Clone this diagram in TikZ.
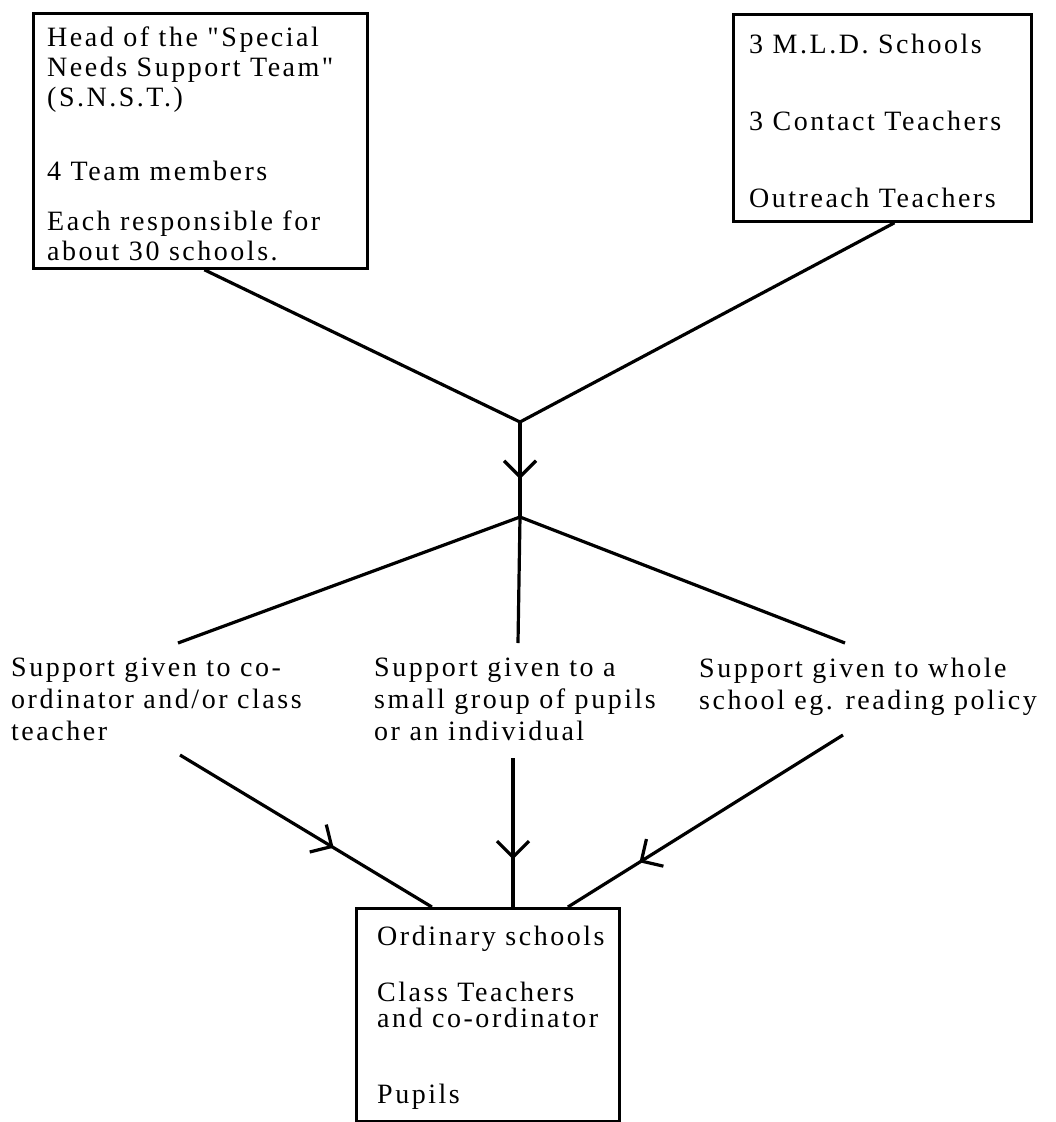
\documentclass[tikz,border=0pt]{standalone}
\usepackage{fontspec}
\setmainfont{Liberation Serif}[LetterSpace=9, Ligatures=TeXOff]
\usepackage{tikz}
\usetikzlibrary{arrows.meta,decorations.markings}
\tikzset{
  framebox/.style={draw, line width=2.8pt, inner sep=0pt, anchor=north west},
  boxtext/.style={font=\fontsize{28}{30}\selectfont, align=left, inner sep=0pt, anchor=north west},
  link/.style={line width=3.2pt},
  midarrow/.style={link, postaction={decorate},
    decoration={markings, mark=at position #1 with {\arrow{Straight Barb[length=16pt,width=32pt]}}}}
}

\begin{document}
\begin{tikzpicture}[x=1pt,y=-1pt]
  \useasboundingbox (0,0) rectangle (1056,1122);
  % the three boxes
  \node[framebox, minimum width=334pt, minimum height=255pt] (snst) at (32,12) {};
  \node[framebox, minimum width=298pt, minimum height=207pt] (mld) at (732,13) {};
  \node[framebox, minimum width=263pt, minimum height=213pt] (ord) at (355,907) {};

  \node[boxtext] (snsttxt) at (47,27) {Head of the "Special\\Needs Support Team"\\(S.N.S.T.)\\[44pt]4 Team members\\[20pt]Each responsible for\\about 30 schools.};
  \node[boxtext] (mldtxt) at (749,34) {3 M.L.D. Schools\\[47pt]3 Contact Teachers\\[47pt]Outreach Teachers};
  \node[boxtext] (ordtxt) at (377,926) {Ordinary schools\\[26pt]Class Teachers\\[-4pt]and co-ordinator\\[46pt]Pupils};

  % kinds of support
  \node[boxtext] (supleft) at (11,658) {Support given to co-\\[2pt]ordinator and/or class\\[2pt]teacher};
  \node[boxtext] (supmid) at (374,658) {Support given to a\\[2pt]small group of pupils\\[2pt]or an individual};
  \node[boxtext] (supright) at (699,658) {Support given to whole\\[2pt]school eg. reading policy};

  \coordinate (meet) at (520,422);
  \coordinate (split) at (520,517);
  \coordinate (toleft) at (178,643);
  \coordinate (tomid) at (518,643);
  \coordinate (toright) at (845,643);
  \coordinate (fromleft) at (180,755);
  \coordinate (frommid) at (513,758);
  \coordinate (fromright) at (843,735);

  \draw[link] ([xshift=4pt]snst.south) -- (meet);
  \draw[link] ([xshift=12pt]mld.south) -- (meet);
  \draw[midarrow=0.6] (meet) -- (split);
  \foreach \e in {toleft,tomid,toright}
    \draw[link] (split) -- (\e);

  \draw[midarrow=0.61] (fromleft) -- ([xshift=-56pt]ord.north);
  \draw[midarrow=0.68] (frommid) -- (frommid |- ord.north);
  \draw[midarrow=0.74] (fromright) -- ([xshift=80pt]ord.north);
\end{tikzpicture}
\end{document}
